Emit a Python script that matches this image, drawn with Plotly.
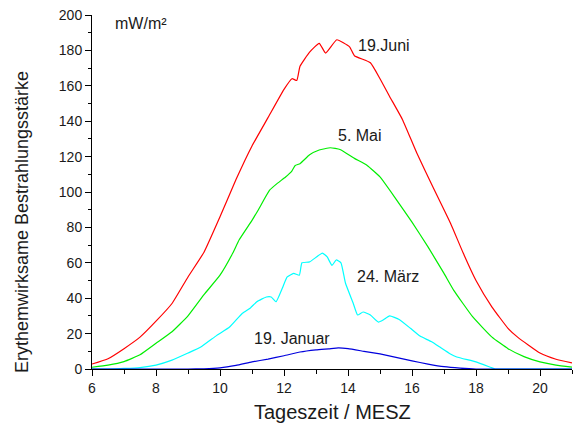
import plotly.graph_objects as go

# 19. Juni
juni_x = [6.0, 6.5, 7.0, 7.5, 8.0, 8.5, 9.0, 9.5, 10.0, 10.5, 11.0, 11.5, 12.0, 12.25, 12.4, 12.5,
          12.8, 13.1, 13.3, 13.65, 14.05, 14.2, 14.7, 15.0, 15.3, 15.7, 16.15, 16.65, 17.2, 17.6,
          18.0, 18.5, 19.0, 19.3, 20.0, 20.5, 21.0]
juni_y = [2.8, 5.8, 11.5, 18, 27, 37, 52, 66, 86, 107, 126, 142, 158, 164, 163, 171,
          179, 184, 178.5, 186, 182, 177, 173, 164, 154, 141, 122, 103, 82.5, 65.5,
          50, 35, 23, 18, 9, 5.5, 3.4]

# 5. Mai
mai_x = [6.0, 6.5, 7.0, 7.5, 8.0, 8.5, 9.0, 9.5, 10.0, 10.4, 10.6, 11.0, 11.2, 11.55, 11.8, 12.05,
         12.25, 12.35, 12.5, 12.8, 13.1, 13.45, 13.75, 14.2, 14.6, 15.0, 15.5, 16.0, 16.5, 17.0,
         17.3, 17.9, 18.5, 19.0, 19.5, 20.0, 20.5, 21.0]
mai_y = [1.0, 2.2, 4.2, 8, 14.5, 21, 30, 42, 53, 65.5, 73, 84, 90, 101, 105, 108.5,
         112, 115, 116, 121, 123.7, 125, 124, 119, 115, 108.5, 96, 83, 69, 54,
         44.6, 29.4, 18, 11.5, 7, 4, 2.2, 1.1]

# 24. März
maerz_x = [6.0, 6.5, 7.0, 7.5, 8.0, 8.5, 9.0, 9.4, 9.9, 10.3, 10.7, 10.95, 11.15, 11.45, 11.6, 11.75,
           11.95, 12.1, 12.3, 12.48, 12.56, 12.8, 13.2, 13.35, 13.5, 13.63, 13.78, 13.92, 14.16, 14.3,
           14.47, 14.7, 14.95, 15.1, 15.3, 15.6, 15.95, 16.25, 16.6, 16.9, 17.2, 17.4, 18.0, 18.45,
           18.6, 19.0, 20.0, 21.0]
maerz_y = [0, 0, 0.3, 0.8, 2.2, 5, 9, 12.4, 19, 23.7, 31.5, 34.5, 38, 40.7, 40.7, 38,
           45.8, 52, 54, 53, 60, 60.5, 65.5, 63.3, 58.5, 61.6, 60, 48.6, 37.3, 30.5,
           32.2, 30.5, 26.5, 27.7, 30, 28, 23, 18.6, 15.5, 12, 8.5, 6.8, 4, 1,
           0, 0, 0, 0]

# 19. Januar
januar_x = [6.0, 9.0, 9.5, 10.0, 10.5, 11.0, 11.5, 12.0, 12.5, 13.0, 13.4, 13.7, 14.0, 14.5, 15.0,
            15.5, 16.0, 16.5, 17.0, 17.5, 18.0, 21.0]
januar_y = [0, 0, 0.1, 0.6, 2, 4, 5.6, 7.5, 9.6, 10.8, 11.4, 11.9, 11.5, 10, 8.5,
            6.6, 4.6, 2.8, 1.3, 0.5, 0, 0]

x_ticks = [6, 8, 10, 12, 14, 16, 18, 20]
y_ticks = [0, 20, 40, 60, 80, 100, 120, 140, 160, 180, 200]

FONT = "Liberation Sans, Arial, sans-serif"
TXT = "#1a1a1a"

fig = go.Figure()
series = [
    (juni_x, juni_y, "#ff0000"),
    (mai_x, mai_y, "#00ee00"),
    (maerz_x, maerz_y, "#00ffff"),
    (januar_x, januar_y, "#0000dd"),
]
for xs, ys, c in series:
    fig.add_trace(go.Scatter(x=xs, y=ys, mode="lines", line=dict(color=c, width=1.2, shape="spline", smoothing=0.4),
                             showlegend=False, hoverinfo="skip"))

labels = [
    ("19.Juni", 15.11, 182.5),
    ("5. Mai", 14.375, 132),
    ("24. März", 15.25, 52),
    ("19. Januar", 12.25, 17.5),
    ("mW/m²", 7.53, 195),
]
for t, x, y in labels:
    fig.add_annotation(x=x, y=y, xref="x", yref="y", text=t, showarrow=False,
                       xanchor="center", yanchor="middle",
                       font=dict(family=FONT, size=16, color=TXT))

PL, PR, PT, PB = 92, 572, 15, 369
fig.add_annotation(xref="paper", yref="paper", x=(22 - PL) / (PR - PL), y=(PB - 222) / (PB - PT),
                   xanchor="center", yanchor="middle",
                   text="Erythemwirksame Bestrahlungsstärke",
                   showarrow=False, textangle=-90, font=dict(family=FONT, size=18, color=TXT))
fig.add_annotation(xref="paper", yref="paper", x=0.5, y=(PB - 412) / (PB - PT), text="Tageszeit / MESZ",
                   xanchor="center", yanchor="middle",
                   showarrow=False, font=dict(family=FONT, size=20, color=TXT))

fig.update_layout(
    width=575, height=425,
    margin=dict(l=PL, r=575 - PR, t=PT, b=425 - PB, autoexpand=False),
    plot_bgcolor="white", paper_bgcolor="white",
    font=dict(family=FONT, size=14, color=TXT),
)
fig.update_xaxes(range=[6, 21], tickvals=x_ticks, ticks="outside", ticklen=6, tickcolor="black",
                 showline=True, linecolor="black", linewidth=1, showgrid=False, zeroline=False,
                 automargin=False,
                 tickfont=dict(size=14, family=FONT, color=TXT),
                 minor=dict(dtick=1, tick0=6, ticks="outside", ticklen=4, tickcolor="black"))
fig.update_yaxes(range=[0, 200], tickvals=y_ticks, ticks="outside", ticklen=6, tickcolor="black",
                 showline=True, linecolor="black", linewidth=1, showgrid=False, zeroline=False,
                 automargin=False,
                 tickfont=dict(size=14, family=FONT, color=TXT),
                 minor=dict(dtick=10, tick0=0, ticks="outside", ticklen=3, tickcolor="black"))

fig.write_html("out.html", config={"displayModeBar": False},
               post_script="document.body.style.margin='0';document.body.style.padding='0';")
